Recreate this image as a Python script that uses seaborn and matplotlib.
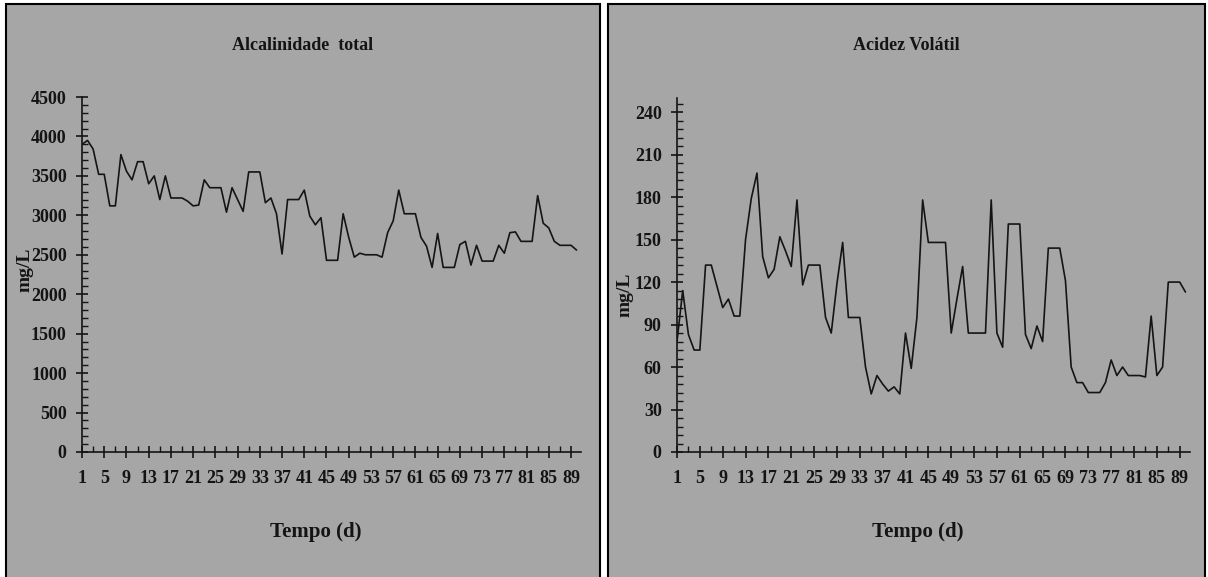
import numpy as np
import pandas as pd
import matplotlib.pyplot as plt
import seaborn as sns
from matplotlib.patches import Rectangle
from matplotlib.ticker import FixedLocator, MultipleLocator

# days of operation
days = list(range(1, 91))

# Alcalinidade total (mg/L)
alcalinidade = [
    3900, 3950, 3840, 3520, 3520, 3120, 3120, 3770, 3560, 3450,
    3680, 3680, 3400, 3500, 3200, 3500, 3220, 3220, 3220, 3180,
    3120, 3130, 3450, 3350, 3350, 3350, 3040, 3350, 3200, 3050,
    3550, 3550, 3550, 3160, 3220, 3020, 2510, 3200, 3200, 3200,
    3320, 2990, 2880, 2970, 2430, 2430, 2430, 3020, 2720, 2470,
    2520, 2500, 2500, 2500, 2470, 2780, 2930, 3320, 3020, 3020,
    3020, 2720, 2610, 2340, 2770, 2340, 2340, 2340, 2630, 2670,
    2370, 2620, 2420, 2420, 2420, 2620, 2520, 2780, 2790, 2670,
    2670, 2670, 3250, 2900, 2840, 2670, 2620, 2620, 2620, 2560,
]

# Acidez volatil (mg/L)
acidez = [
    78, 114, 83, 72, 72, 132, 132, 117, 102, 108,
    96, 96, 150, 179, 197, 138, 123, 129, 152, 142,
    131, 178, 118, 132, 132, 132, 95, 84, 119, 148,
    95, 95, 95, 60, 41, 54, 48, 43, 46, 41,
    84, 59, 95, 178, 148, 148, 148, 148, 84, 108,
    131, 84, 84, 84, 84, 178, 84, 74, 161, 161,
    161, 83, 73, 89, 78, 144, 144, 144, 121, 60,
    49, 49, 42, 42, 42, 49, 65, 54, 60, 54,
    54, 54, 53, 96, 54, 60, 120, 120, 120, 113,
]

titles = ["Alcalinidade  total", "Acidez Volátil"]
x_label = "Tempo (d)"
y_label = "mg/L"

sns.set_style("ticks")
plt.rcParams['font.family'] = ['Liberation Serif', 'DejaVu Serif']
plt.rcParams['font.weight'] = 'bold'

GRAY = '#a6a6a6'
INK = '#141414'
W, H = 1208, 577

def box(x0, y0, x1, y1):
    # pixel box (top-left origin) -> figure fraction rect
    return [x0 / W, 1 - y1 / H, (x1 - x0) / W, (y1 - y0) / H]

fig = plt.figure(figsize=(W / 100, H / 100), dpi=100)

# the two gray chart panels, kept behind the axes
for x0, x1 in [(6, 600), (608, 1205)]:
    fig.patches.append(Rectangle((x0 / W, -0.02), (x1 - x0) / W, 1.02 - 4 / H,
                                 transform=fig.transFigure, facecolor=GRAY,
                                 edgecolor='black', linewidth=1.5, zorder=-5))

ax1 = fig.add_axes(box(82, 97, 581, 452))
ax2 = fig.add_axes(box(677, 98, 1190, 452))

df = pd.DataFrame({'dia': days, 'alc': alcalinidade, 'acid': acidez})

sns.lineplot(data=df, x='dia', y='alc', ax=ax1, color=INK, linewidth=1.2)
sns.lineplot(data=df, x='dia', y='acid', ax=ax2, color=INK, linewidth=1.2)

ax1.set_ylim(0, 4500)
ax1.yaxis.set_major_locator(MultipleLocator(500))
ax1.yaxis.set_minor_locator(MultipleLocator(100))
ax2.set_ylim(0, 250)
ax2.yaxis.set_major_locator(FixedLocator(range(0, 241, 30)))
ax2.yaxis.set_minor_locator(MultipleLocator(6))

for ax in (ax1, ax2):
    ax.set_facecolor(GRAY)
    ax.set_xlim(1, 90.8)
    ax.xaxis.set_major_locator(FixedLocator(range(1, 91, 4)))
    ax.xaxis.set_minor_locator(FixedLocator(range(3, 91, 4)))
    for s in ('top', 'right'):
        ax.spines[s].set_visible(False)
    for s in ('left', 'bottom'):
        ax.spines[s].set_color(INK)
        ax.spines[s].set_linewidth(1.2)
    ax.tick_params(axis='both', which='major', direction='inout', length=8,
                   width=1.2, color=INK, labelsize=13, labelcolor=INK)
    ax.tick_params(axis='both', which='minor', direction='in', length=4,
                   width=1, color=INK)
    ax.tick_params(axis='x', which='major', pad=9)
    ax.tick_params(axis='y', which='major', pad=7)
    ax.set_xlabel('')
    ax.set_ylabel('')
    for lab in ax.get_xticklabels() + ax.get_yticklabels():
        lab.set_fontweight('bold')

# titles and axis names
fig.text(303 / W, 1 - 45 / H, titles[0], ha='center', va='center',
         fontsize=13, fontweight='bold', color=INK)
fig.text(906 / W, 1 - 45 / H, titles[1], ha='center', va='center',
         fontsize=13, fontweight='bold', color=INK)
fig.text(316 / W, 1 - 532 / H, x_label, ha='center', va='center',
         fontsize=15, fontweight='bold', color=INK)
fig.text(918 / W, 1 - 532 / H, x_label, ha='center', va='center',
         fontsize=15, fontweight='bold', color=INK)
fig.text(25 / W, 1 - 270 / H, y_label, ha='center', va='center', rotation=90,
         fontsize=14, fontweight='bold', color=INK)
fig.text(625 / W, 1 - 295 / H, y_label, ha='center', va='center', rotation=90,
         fontsize=14, fontweight='bold', color=INK)

fig.savefig('out.png', dpi=100, facecolor='white')
